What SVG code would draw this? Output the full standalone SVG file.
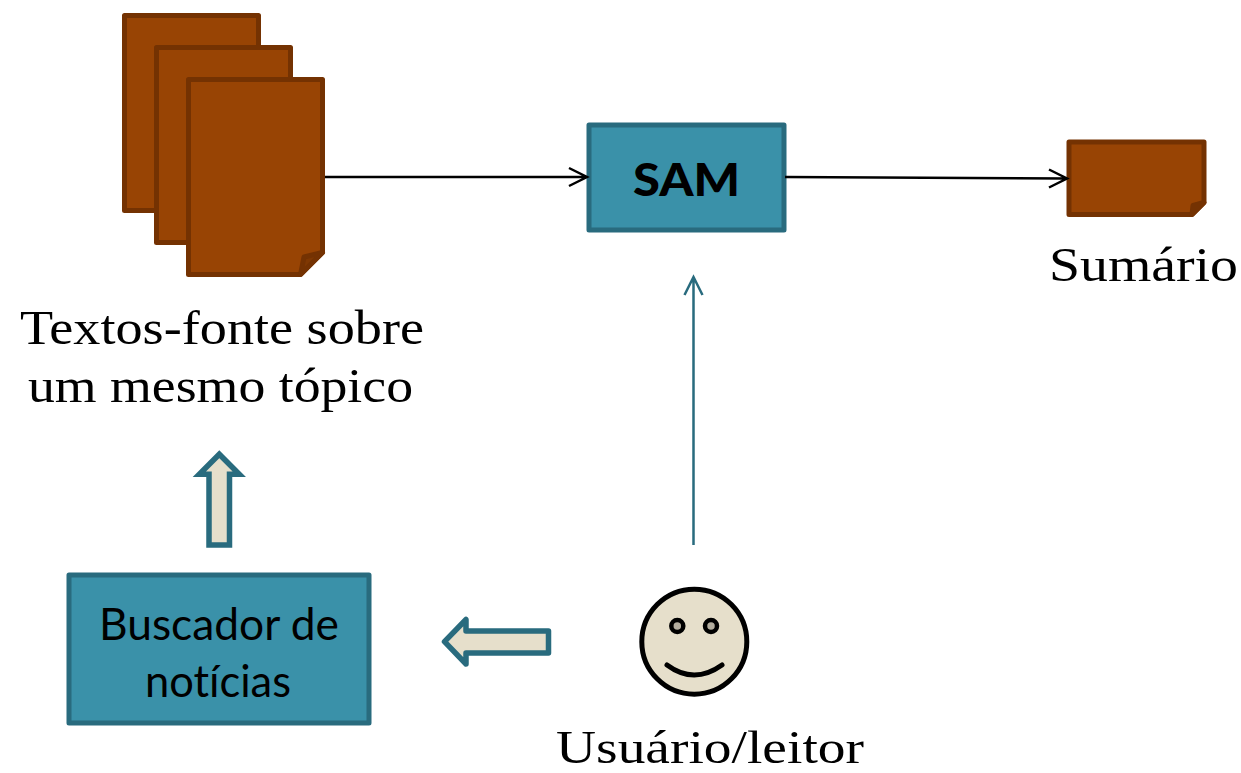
<svg xmlns="http://www.w3.org/2000/svg" width="1241" height="773" viewBox="0 0 1241 773">
<style>
.doc{fill:#984404;stroke:#743202;stroke-width:5;stroke-linejoin:round}
.fold{fill:#7f3803;stroke:#743202;stroke-width:5;stroke-linejoin:round}
.box{fill:#3a91a9;stroke:#296b7e;stroke-width:5;stroke-linejoin:round}
.blk{fill:none;stroke:#000;stroke-width:2.5}
.teal{fill:none;stroke:#296b7e;stroke-width:2.5}
.block{fill:#e6dfcb;stroke:#296b7e;stroke-width:5.500}
.serif{font-family:"Liberation Serif","DejaVu Serif",serif;font-size:49px;fill:#000}
.sans{font-family:Lato,"Open Sans",sans-serif;fill:#000;text-anchor:middle;font-variant-ligatures:none}
</style>
<rect width="1241" height="773" fill="#fff"/>
<g id="doc-back"><rect class="doc" x="124.500" y="15.500" width="134" height="195"/></g>
<g id="doc-middle"><rect class="doc" x="156.500" y="47.500" width="134" height="195"/></g>
<g id="doc-front">
<path class="doc" d="M188.500 79.500H322.500V252.500L300.500 274.500H188.500Z"/>
<path class="fold" d="M322.500 252.500L304 257L300.500 274.500Z"/>
</g>
<g id="sam"><rect class="box" x="589" y="125" width="195" height="105"/><text class="sans" x="686.500" y="196" font-size="46" font-weight="900" textLength="107" lengthAdjust="spacingAndGlyphs">SAM</text></g>
<g id="sumario">
<path class="doc" d="M1069 142H1204V202.500L1192 214.500H1069Z"/>
<path class="fold" d="M1204 202.500L1193 205.500L1192 214.500Z"/>
</g>
<g id="buscador"><rect class="box" x="69" y="575" width="300" height="148"/>
<text class="sans" x="219" y="640" font-size="44" textLength="240" lengthAdjust="spacingAndGlyphs">Buscador de</text>
<text class="sans" x="218" y="697" font-size="44" textLength="146" lengthAdjust="spacingAndGlyphs">notícias</text></g>
<g id="usuario">
<circle cx="694.300" cy="641.700" r="52.500" fill="#e6dfcb" stroke="#000" stroke-width="5"/>
<circle cx="677.300" cy="626" r="6" fill="#b3ad9e" stroke="#000" stroke-width="4.500"/>
<circle cx="711" cy="626" r="6" fill="#b3ad9e" stroke="#000" stroke-width="4.500"/>
<path d="M667 665Q694 685 722 665" fill="none" stroke="#000" stroke-width="5" stroke-linecap="round"/>
</g>
<g id="connectors">
<path class="blk" d="M325 177H586M569 168L587 177L569 186"/>
<path class="blk" d="M785 177L1066 178.500M1049 169.500L1067 178.500L1049 187.500"/>
<path class="teal" d="M693.500 545V277M684.500 295L693.500 277L702.500 295"/>
<path class="block" d="M209 545V474.200H199.300L219.300 454.200L239.300 474.200H229.500V545Z"/>
<path class="block" stroke-linejoin="round" d="M548.500 631V653H466V664L444.500 641.700L466 619.500V631Z"/>
</g>
<g id="labels">
<text class="serif" x="20" y="344" textLength="404" lengthAdjust="spacingAndGlyphs">Textos-fonte sobre</text>
<text class="serif" x="28" y="402" textLength="385" lengthAdjust="spacingAndGlyphs">um mesmo tópico</text>
<text class="serif" x="1049" y="281" textLength="189" lengthAdjust="spacingAndGlyphs">Sumário</text>
<text class="serif" x="556" y="763" style="font-size:46px" textLength="308" lengthAdjust="spacingAndGlyphs">Usuário/leitor</text>
</g>
</svg>
